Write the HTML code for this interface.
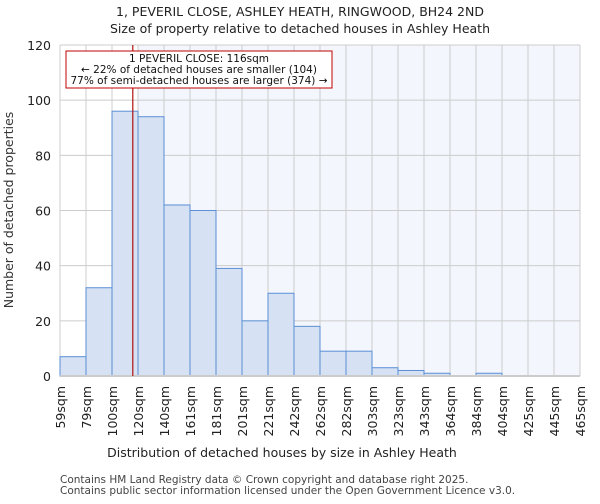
<!DOCTYPE html>
<html><head><meta charset="utf-8"><style>
body{margin:0;background:#fff;font-family:"DejaVu Sans","Liberation Sans",sans-serif;}
</style></head><body>
<svg id="chart" width="600" height="500" xmlns="http://www.w3.org/2000/svg" font-family="DejaVu Sans, Liberation Sans, sans-serif">
<text x="300" y="16" text-anchor="middle" font-size="12.5" fill="#222">1, PEVERIL CLOSE, ASHLEY HEATH, RINGWOOD, BH24 2ND</text>
<text x="300" y="33" text-anchor="middle" font-size="12.5" fill="#222">Size of property relative to detached houses in Ashley Heath</text>
<g id="plot"></g>
<text x="282" y="457" text-anchor="middle" font-size="12.5" fill="#222">Distribution of detached houses by size in Ashley Heath</text>
<text transform="translate(13,210) rotate(-90)" text-anchor="middle" font-size="12.5" fill="#333">Number of detached properties</text>
<text x="60" y="483" font-size="10.5" fill="#444">Contains HM Land Registry data © Crown copyright and database right 2025.</text>
<text x="60" y="494" font-size="10.5" fill="#444">Contains public sector information licensed under the Open Government Licence v3.0.</text>
</svg>
<script>
const binLabels=["59sqm","79sqm","100sqm","120sqm","140sqm","161sqm","181sqm","201sqm","221sqm","242sqm","262sqm","282sqm","303sqm","323sqm","343sqm","364sqm","384sqm","404sqm","425sqm","445sqm","465sqm"];
const counts=[7,32,96,94,62,60,39,20,30,18,9,9,3,2,1,0,1,0,0,0];
const yTicks=[0,20,40,60,80,100,120];
const propertyBinPos=2.8; // 116sqm in bin units
const NS="http://www.w3.org/2000/svg";
const g=document.getElementById('plot');
const X0=60,X1=580,Y0=376,Y1=45,YMAX=120;
const bw=(X1-X0)/counts.length;
const xs=i=>X0+i*bw;
const ys=v=>Y0-(v/YMAX)*(Y0-Y1);
function mk(t,a){const e=document.createElementNS(NS,t);for(const k in a)e.setAttribute(k,a[k]);g.appendChild(e);return e;}
const px=xs(propertyBinPos);
let sh=mk('rect',{x:xs(3),y:Y1,width:X1-xs(3),height:Y0-Y1,fill:'#f3f6fd'});


yTicks.forEach(v=>{
 let l=mk('line',{x1:X0,x2:X1,y1:ys(v),y2:ys(v),stroke:'#cccccc','stroke-width':1});
 
 
 let t=mk('text',{x:X0-9,y:ys(v)+5,'text-anchor':'end','font-size':'12.5',fill:'#222'});
 t.textContent=v;
 
 
});
binLabels.forEach((s,i)=>{
 let l=mk('line',{x1:xs(i),x2:xs(i),y1:Y1,y2:Y0,stroke:'#cccccc','stroke-width':1});
 
 
 let t=mk('text',{transform:`translate(${xs(i)+5},${Y0+10}) rotate(-90)`,'text-anchor':'end','font-size':'12.5',fill:'#222'});
 t.textContent=s;
 
 
});
counts.forEach((c,i)=>{
 if(c<=0)return;
 let r=mk('rect',{x:xs(i),y:ys(c),width:bw,height:Y0-ys(c),fill:'#d6e1f3',stroke:'#5b8fd6','stroke-width':1});
 
 
});
let ax=mk('line',{x1:X0,x2:X1,y1:Y0,y2:Y0,stroke:'#cccccc','stroke-width':2});


let pl=mk('line',{x1:px,x2:px,y1:Y1,y2:Y0,stroke:'#b01010','stroke-width':1.2});


let box=mk('rect',{x:66,y:51,width:266,height:37,fill:'#fff',stroke:'#c00000','stroke-width':1});


["1 PEVERIL CLOSE: 116sqm","← 22% of detached houses are smaller (104)","77% of semi-detached houses are larger (374) →"].forEach((s,i)=>{
 let t=mk('text',{x:199,y:62+i*11,'text-anchor':'middle','font-size':'10.5',fill:'#111'});
 t.textContent=s;
 
 
});
</script>
</body></html>
